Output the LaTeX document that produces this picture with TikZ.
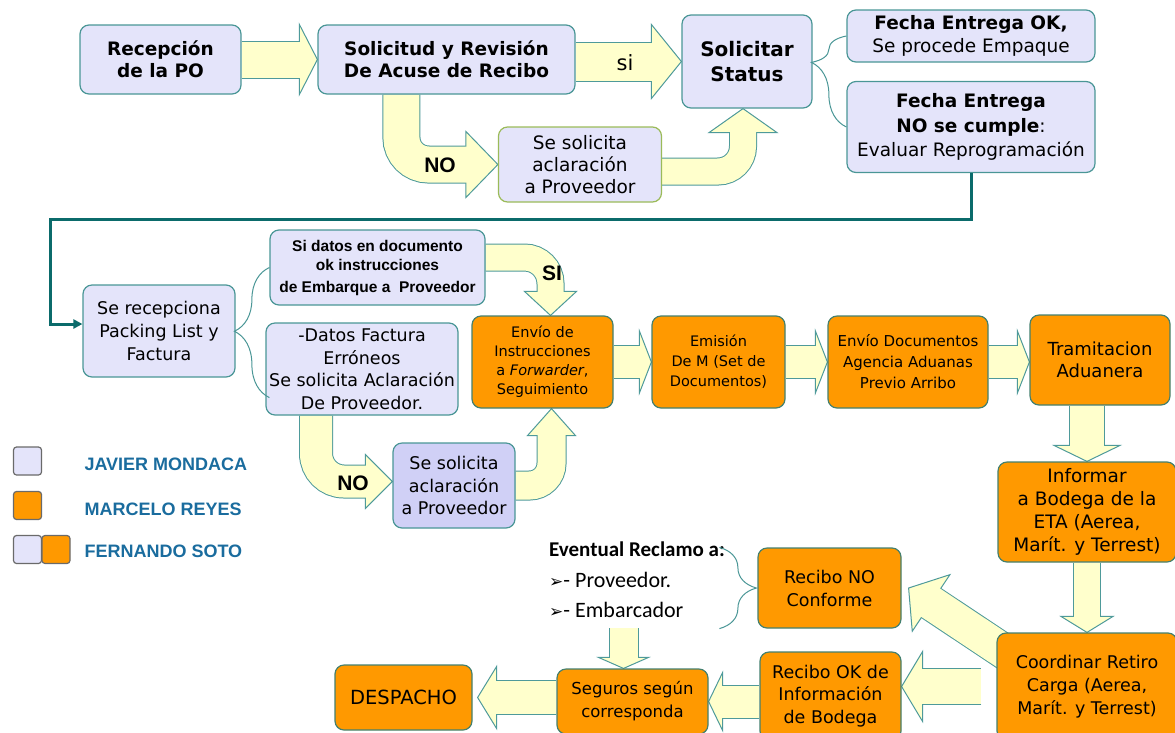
\documentclass[tikz,border=0pt]{standalone}
\usepackage{fontspec}
\setmainfont{DejaVu Sans}
\newfontfamily\arialfont{Liberation Sans}
\newfontfamily\calfont{Carlito}
\newfontfamily\dingfont{DejaVu Sans}
\usetikzlibrary{calc,positioning,decorations.pathreplacing,arrows.meta}
\pgfdeclarelayer{background}
\pgfsetlayers{background,main}

\definecolor{boxlav}{HTML}{E4E4FA}
\definecolor{boxlavdark}{HTML}{D0D0F6}
\definecolor{boxorange}{HTML}{FF9900}
\definecolor{boxline}{HTML}{4A9696}
\definecolor{orgline}{HTML}{44806E}
\definecolor{arrowyel}{HTML}{FFFFCC}
\definecolor{arrowteal}{HTML}{4E9A9A}
\definecolor{linkteal}{HTML}{0B6B6B}
\definecolor{greenline}{HTML}{9BBB59}
\definecolor{legendblue}{HTML}{1A6C9E}
\definecolor{legendgray}{HTML}{6A6A6A}

\newcommand{\setsz}[2]{\fontsize{#1}{#2}\selectfont}
% fat block arrow: body width, corner radius, body path, head base, tip, head half width
\newcommand{\fatarrow}[6]{%
  \draw[arrowline, line width=#1pt+2pt, rounded corners=#2pt] #3;
  \filldraw[fathead] ($(#4)!#6pt!90:(#5)$) -- (#5) -- ($(#4)!#6pt!-90:(#5)$) -- cycle;
  \draw[arrowfill, line width=#1pt, rounded corners=#2pt, shorten >=-1.5pt] #3;
}

\begin{document}
\begin{tikzpicture}[x=1pt,y=-1pt,
  box/.style={draw=boxline, line width=1.2pt, rounded corners=9pt, align=center, inner sep=1pt},
  lavbox/.style={box, fill=boxlav},
  orgbox/.style={box, fill=boxorange, draw=orgline},
  arrowline/.style={draw=arrowteal},
  arrowfill/.style={draw=arrowyel},
  fathead/.style={fill=arrowyel, draw=arrowteal, line width=1pt},
  curly/.style={draw=boxline, line width=1pt, decorate, decoration={brace, amplitude=35pt, aspect=#1}},
  link/.style={draw=linkteal, line width=3pt, -{Triangle[length=9pt,width=9pt]}},
  legsq/.style={draw=legendgray, line width=1.2pt, rounded corners=3pt, minimum size=28, inner sep=0pt},
  legtext/.style={anchor=west, text=legendblue, font=\arialfont\bfseries\setsz{18}{20}}]
  \useasboundingbox (0,0) rectangle (1175,732);

  % first row
  \node[lavbox, minimum width=161, minimum height=69, font=\bfseries\setsz{18.5}{22}] (A) at (160.5,59.5) {Recepción\\de la PO};
  \node[lavbox, minimum width=257, minimum height=69, font=\bfseries\setsz{18.5}{22}] (B) at (446.5,59.5) {Solicitud y Revisión\\De Acuse de Recibo};
  \node[lavbox, minimum width=130, minimum height=93, font=\bfseries\setsz{20}{25}] (C) at (747,61.5) {Solicitar\\Status};
  \node[lavbox, minimum width=248, minimum height=52, font=\setsz{18.5}{23}] (D) at (971,36) {\textbf{Fecha Entrega OK,}\\Se procede Empaque};
  \node[lavbox, minimum width=248, minimum height=91, font=\setsz{18.5}{24.5}] (E) at (971,127) {\textbf{Fecha Entrega}\\\textbf{NO se cumple}:\\Evaluar Reprogramación};
  \node[lavbox, draw=greenline, minimum width=163, minimum height=75, font=\setsz{18.5}{22}] (F) at (580,164.5) {Se solicita\\aclaración\\a Proveedor};

  % second row
  \node[lavbox, minimum width=152, minimum height=92, font=\setsz{17.5}{23}] (G) at (159,331) {Se recepciona\\Packing List y\\Factura};
  \node[lavbox, minimum width=215, minimum height=75, font=\arialfont\bfseries\setsz{15.5}{19}] (H) at (377.5,267.5) {Si datos en documento\\ok instrucciones\\[3pt]de Embarque a\ \ Proveedor};
  \node[lavbox, minimum width=192, minimum height=92, font=\setsz{17.5}{22.5}] (I) at (362,369) {-Datos Factura\\Erróneos\\Se solicita Aclaración\\De Proveedor.};
  \node[orgbox, minimum width=141, minimum height=92, font=\setsz{14.5}{19}] (J) at (542.5,362) {Envío de\\Instrucciones\\a \textit{Forwarder},\\Seguimiento};
  \node[box, fill=boxlavdark, minimum width=122, minimum height=85, font=\setsz{17.5}{22.5}] (K) at (454,485.5) {Se solicita\\aclaración\\a Proveedor};
  \node[orgbox, minimum width=133, minimum height=92, font=\setsz{14.5}{20}] (L) at (718.5,362) {Emisión\\De M (Set de\\Documentos)};
  \node[orgbox, minimum width=160, minimum height=92, font=\setsz{15}{21}] (M) at (908,362) {Envío Documentos\\Agencia Aduanas\\Previo Arribo};
  \node[orgbox, minimum width=140, minimum height=90, font=\setsz{18}{22}] (N) at (1100,360) {Tramitacion\\Aduanera};

  % right column and bottom row
  \node[orgbox, minimum width=178, minimum height=100, font=\setsz{18.5}{23}] (O) at (1087,512) {Informar\\a Bodega de la\\ETA (Aerea,\\Marít. y Terrest)};
  \node[orgbox, minimum width=180, minimum height=107, font=\setsz{17.5}{23}] (P) at (1087,686.5) {Coordinar Retiro\\Carga (Aerea,\\Marít. y Terrest)};
  \node[orgbox, minimum width=143, minimum height=80, font=\setsz{17.5}{23}] (Q) at (829.5,588) {Recibo NO\\Conforme};
  \node[orgbox, minimum width=141, minimum height=88, font=\setsz{17.5}{22.5}] (R) at (830.5,696) {Recibo OK de\\Información\\de Bodega};
  \node[orgbox, minimum width=151, minimum height=65, font=\setsz{16.5}{23}] (S) at (632.5,701.5) {Seguros según\\corresponda};
  \node[orgbox, minimum width=137, minimum height=65, font=\setsz{19.5}{23}] (T) at (403.5,697.5) {DESPACHO};

  \node[anchor=north west, align=left, inner sep=0pt, font=\calfont\setsz{22}{30.5}] (reclamo) at (549,542)
    {{\bfseries\setsz{21}{30.5}Eventual Reclamo a:}\\{\dingfont\setsz{17}{30.5}➢}- Proveedor.\\{\dingfont\setsz{17}{30.5}➢}- Embarcador};

  % legend
  \node[legsq, fill=boxlav] (sqJavier) at (27.5,461) {};
  \node[legsq, fill=boxorange] (sqMarcelo) at (27.5,505.5) {};
  \node[legsq, fill=boxlav] (sqFernandoA) at (27.5,549.5) {};
  \node[legsq, fill=boxorange] (sqFernandoB) at (56,549.5) {};
  \node[legtext] (txtJavier) at (81,464) {JAVIER MONDACA};
  \node[legtext] (txtMarcelo) at (81,509) {MARCELO REYES};
  \node[legtext] (txtFernando) at (81,551) {FERNANDO SOTO};

  % block arrows
  \coordinate (abBase) at ([xshift=-18]B.west);
  \coordinate (bcStart) at (B.east |- C.west);
  \coordinate (bcBase) at ([xshift=-30]C.west);
  \coordinate (noAStart) at ([xshift=84]B.south west);
  \coordinate (noABase) at ([xshift=-32]F.west);
  \coordinate (upAStart) at ([yshift=-7]F.east);
  \coordinate (upATip) at ([xshift=-4]C.south);
  \coordinate (upABase) at ([xshift=-4,yshift=-24]C.south);
  \coordinate (siStart) at ([yshift=10]H.east);
  \coordinate (siTip) at ([xshift=8]J.north);
  \coordinate (siBase) at ([xshift=8,yshift=24]J.north);
  \coordinate (noBStart) at ([xshift=-46]I.south);
  \coordinate (noBTip) at ([yshift=4]K.west);
  \coordinate (noBBase) at ([xshift=-27,yshift=4]K.west);
  \coordinate (upBTip) at ([xshift=9]J.south);
  \coordinate (upBBase) at ([xshift=9,yshift=-27]J.south);
  \coordinate (jlBase) at ([xshift=-12]L.west);
  \coordinate (lmBase) at ([xshift=-12]M.west);
  \coordinate (mnTip) at (M.east -| N.west);
  \coordinate (mnBase) at ([xshift=-12]mnTip);
  \coordinate (noStart) at (N.south -| O.north);
  \coordinate (noBaseDown) at ([yshift=16]O.north);
  \coordinate (opBase) at ([yshift=16]P.north);
  \coordinate (pqStart) at ([xshift=12,yshift=-22]P.north west);
  \coordinate (pqTip) at ([xshift=7]Q.east);
  \coordinate (pqBase) at ($(pqTip)!27pt!(pqStart)$);
  \coordinate (prStart) at ([xshift=-15]P.west);
  \coordinate (prTip) at (R.east |- prStart);
  \coordinate (prBase) at ([xshift=21]prTip);
  \coordinate (rsStart) at (R.west |- S.east);
  \coordinate (rsBase) at ([xshift=14]S.east);
  \coordinate (stTip) at ([xshift=5]T.east);
  \coordinate (stStart) at (S.west |- stTip);
  \coordinate (stBase) at ([xshift=19]stTip);
  \coordinate (rcTip) at ([xshift=-9]S.north);
  \coordinate (rcStart) at ([yshift=40]rcTip);
  \coordinate (rcBase) at ([yshift=11]rcTip);

  \begin{pgfonlayer}{background}
    \fatarrow{36}{0}{(A.east) -- (abBase)}{abBase}{B.west}{35}
    \fatarrow{38}{0}{(bcStart) -- (bcBase)}{bcBase}{C.west}{37}
    \fatarrow{36}{27}{(noAStart) |- (noABase)}{noABase}{F.west}{33}
    \fatarrow{26}{25}{(upAStart) -| (upABase)}{upABase}{upATip}{34}
    \fatarrow{26}{26}{(siStart) -| (siBase)}{siBase}{siTip}{26}
    \fatarrow{32}{28}{(noBStart) |- (noBBase)}{noBBase}{noBTip}{27}
    \fatarrow{28}{22}{(K.east) -| (upBBase)}{upBBase}{upBTip}{24}
    \fatarrow{32}{0}{(J.east) -- (jlBase)}{jlBase}{L.west}{31}
    \fatarrow{32}{0}{(L.east) -- (lmBase)}{lmBase}{M.west}{31}
    \fatarrow{32}{0}{(M.east) -- (mnBase)}{mnBase}{mnTip}{31}
    \fatarrow{34}{0}{(noStart) -- (noBaseDown)}{noBaseDown}{O.north}{33}
    \fatarrow{26}{0}{(O.south) -- (opBase)}{opBase}{P.north}{26}
    \fatarrow{34}{0}{(pqStart) -- (pqBase)}{pqBase}{pqTip}{34}
    \fatarrow{35}{0}{(prStart) -- (prBase)}{prBase}{prTip}{35}
    \fatarrow{32}{0}{(rsStart) -- (rsBase)}{rsBase}{S.east}{29}
    \fatarrow{33}{0}{(stStart) -- (stBase)}{stBase}{stTip}{31}
    \fatarrow{28}{0}{(rcStart) -- (rcBase)}{rcBase}{rcTip}{25}
  \end{pgfonlayer}

  % arrow labels
  \node[font=\setsz{21}{24}] (lblSi) at (625,63) {si};
  \node[font=\arialfont\bfseries\setsz{21}{24}] (lblNoA) at (440,165) {NO};
  \node[font=\arialfont\bfseries\setsz{21}{24}] (lblSiB) at (552,273) {SI};
  \node[font=\arialfont\bfseries\setsz{21}{24}] (lblNoB) at (353,483) {NO};

  % braces
  \draw[curly=0.71] (E.west) -- (D.west);
  \draw[curly=0.51] ($(H.west |- I.south)+(0,-18)$) -- (H.west);
  \draw[curly=0.5, decoration={amplitude=37pt}] ($(Q.north west)+(-38,0)$) -- ($(Q.south west)+(-38,0)$);

  % link to second row
  \draw[link] (E.south) -- ++(0,46) -| ($(G.west)+(-32,-7)$) -- ($(G.west)+(0,-7)$);
\end{tikzpicture}
\end{document}
